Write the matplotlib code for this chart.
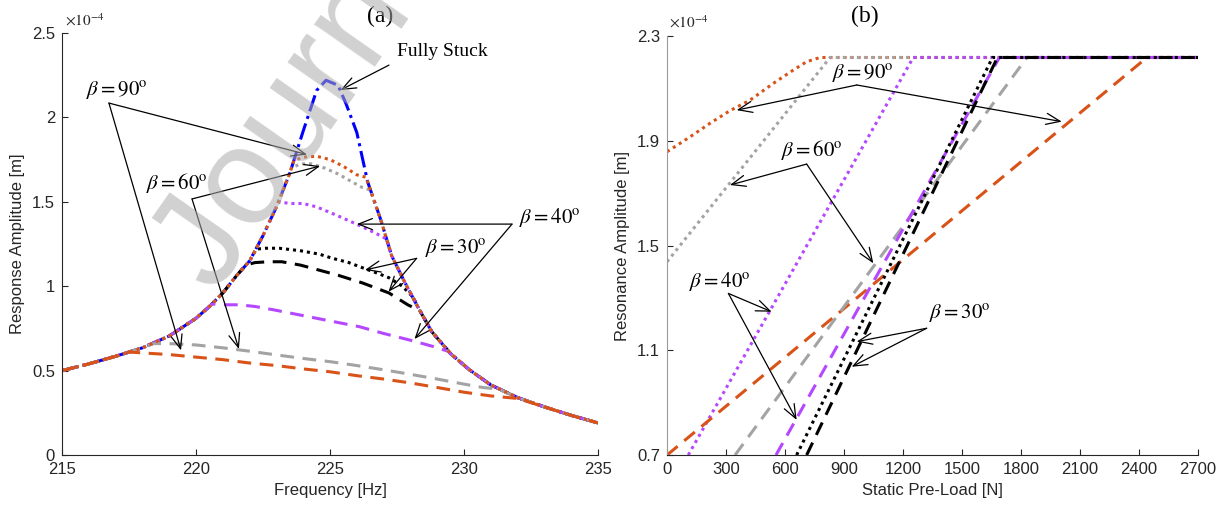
import numpy as np
import matplotlib
matplotlib.use("Agg")
import matplotlib.pyplot as plt

plt.rcParams['font.family'] = ['Liberation Sans', 'DejaVu Sans']
plt.rcParams['mathtext.fontset'] = 'stix'

# ---- (a) frequency response, amplitudes in 1e-4 m ----
stuck_freq = [215, 216, 217, 218, 219, 220, 220.5, 221, 221.5, 222, 222.5, 223, 223.5, 224,
              224.5, 224.85, 225.3, 225.6, 226, 226.4, 226.9, 227.3, 227.8, 228.3, 228.8,
              229.5, 230.2, 231, 232, 233, 234, 235]
stuck_amp = [0.50, 0.54, 0.585, 0.635, 0.705, 0.81, 0.88, 0.96, 1.06, 1.15, 1.30, 1.47, 1.67, 1.92,
             2.16, 2.22, 2.19, 2.08, 1.91, 1.62, 1.39, 1.18, 1.02, 0.87, 0.73,
             0.60, 0.505, 0.415, 0.34, 0.285, 0.235, 0.19]

# slipping part of each friction curve (the rest sits on the stuck curve)
b90_dot_f = [223.65, 224.0, 224.5, 225.0, 225.5, 226.0, 226.35]
b90_dot_a = [1.745, 1.765, 1.77, 1.75, 1.71, 1.66, 1.645]
b60_dot_f = [223.55, 223.9, 224.3, 224.8, 225.3, 225.8, 226.2, 226.5]
b60_dot_a = [1.70, 1.725, 1.725, 1.70, 1.665, 1.62, 1.585, 1.57]
b40_dot_f = [223.1, 223.5, 224.0, 224.5, 225.25, 226.1, 226.75, 227.1]
b40_dot_a = [1.50, 1.49, 1.49, 1.47, 1.42, 1.36, 1.31, 1.28]
b30_dot_f = [222.25, 222.6, 223.1, 223.9, 224.6, 225.1, 225.7, 226.2, 226.8, 227.2, 227.7, 228.1]
b30_dot_a = [1.22, 1.225, 1.225, 1.21, 1.19, 1.165, 1.14, 1.11, 1.075, 1.05, 1.0, 0.935]
b30_dash_f = [221.85, 222.2, 222.7, 223.2, 223.9, 224.6, 225.3, 226.2, 227.2, 227.9, 228.35]
b30_dash_a = [1.125, 1.14, 1.145, 1.145, 1.125, 1.095, 1.065, 1.02, 0.96, 0.89, 0.855]
b40_dash_f = [220.6, 221.0, 221.6, 222.2, 222.9, 223.7, 224.5, 225.3, 226.1, 227.0, 228.0, 228.8, 229.4]
b40_dash_a = [0.895, 0.89, 0.89, 0.88, 0.86, 0.835, 0.81, 0.785, 0.76, 0.72, 0.68, 0.645, 0.615]
b60_dash_f = [218.4, 219.0, 220.0, 221.0, 222.0, 223.0, 224.0, 225.0, 226.0, 227.0, 228.0, 229.0,
              230.0, 230.7, 231.3]
b60_dash_a = [0.66, 0.66, 0.652, 0.635, 0.615, 0.593, 0.572, 0.553, 0.53, 0.505, 0.478, 0.45,
              0.42, 0.40, 0.39]
b90_dash_f = [217.5, 218, 219, 220, 221, 222, 223, 224, 225, 226, 227, 228, 229, 230, 231, 232]
b90_dash_a = [0.61, 0.605, 0.595, 0.58, 0.565, 0.545, 0.53, 0.51, 0.493, 0.47, 0.45, 0.427, 0.40,
              0.372, 0.35, 0.335]

# ---- (b) resonance amplitude vs static pre-load ----
b90_dot_n = [0, 117, 219, 320, 422, 540, 642, 710, 778, 2700]
b90_dot_r = [1.858, 1.915, 1.967, 2.015, 2.055, 2.119, 2.170, 2.202, 2.218, 2.218]
b90_dash_n = [0, 880, 2440, 2700]
b90_dash_r = [0.7, 1.247, 2.218, 2.218]
b60_dot_n = [0, 829, 2700]
b60_dot_r = [1.438, 2.218, 2.218]
b60_dash_n = [346, 1830, 2700]
b60_dash_r = [0.7, 2.218, 2.218]
b40_dot_n = [108, 1252, 2700]
b40_dot_r = [0.7, 2.218, 2.218]
b40_dash_n = [554, 1690, 2700]
b40_dash_r = [0.7, 2.218, 2.218]
b30_dot_n = [659, 1655, 2700]
b30_dot_r = [0.7, 2.218, 2.218]
b30_dash_n = [710, 1680, 2700]
b30_dash_r = [0.7, 2.218, 2.218]

ORANGE = '#D95319'
GRAY = '#A3A3A3'
PURPLE = '#B547FF'
BLUE = '#0000FF'
DOT = (0, (1.0, 1.3))
DASH = (0, (4.5, 2.8))
DASHDOT = (0, (5.5, 1.6, 1.0, 1.6))
LW = 2.2
SERIF = ['Liberation Serif', 'DejaVu Serif']


def with_stuck(f_part, a_part):
    """Join a slipping branch onto the fully stuck curve at both ends."""
    f = np.asarray(stuck_freq, float)
    a = np.asarray(stuck_amp, float)
    lo = f < f_part[0]
    hi = f > f_part[-1]
    return (np.concatenate([f[lo], f_part, f[hi]]),
            np.concatenate([a[lo], a_part, a[hi]]))


def beta(deg):
    return r'$\beta = %d^{\mathrm{o}}$' % deg


def arrow(ax, tip, base):
    ax.annotate('', xy=tip, xytext=base, xycoords='data', textcoords='data',
                arrowprops=dict(arrowstyle='->,head_length=1.0,head_width=0.4',
                                lw=0.9, color='k', shrinkA=0, shrinkB=0))


def style_axes(ax):
    for s in ('top', 'right'):
        ax.spines[s].set_visible(False)
    for s in ('left', 'bottom'):
        ax.spines[s].set_color('#262626')
        ax.spines[s].set_linewidth(0.8)
    ax.tick_params(direction='in', length=4.5, width=0.8, labelsize=12,
                   colors='#262626', pad=5)


fig = plt.figure(figsize=(12.21, 5.08), dpi=100)
ax_a = fig.add_axes([0.0508, 0.1043, 0.4390, 0.8307])
ax_b = fig.add_axes([0.5463, 0.1043, 0.4349, 0.8248])

# panel (a)
ax_a.plot(stuck_freq, stuck_amp, color=BLUE, ls=DASHDOT, lw=LW)
for fp, ap, c, ls in [(b30_dash_f, b30_dash_a, 'k', DASH),
                      (b30_dot_f, b30_dot_a, 'k', DOT),
                      (b40_dash_f, b40_dash_a, PURPLE, DASH),
                      (b40_dot_f, b40_dot_a, PURPLE, DOT),
                      (b60_dash_f, b60_dash_a, GRAY, DASH),
                      (b60_dot_f, b60_dot_a, GRAY, DOT),
                      (b90_dot_f, b90_dot_a, ORANGE, DOT),
                      (b90_dash_f, b90_dash_a, ORANGE, DASH)]:
    f, a = with_stuck(fp, ap)
    ax_a.plot(f, a, color=c, ls=ls, lw=LW)

ax_a.set_xlim(215, 235)
ax_a.set_ylim(0, 2.5)
ax_a.set_xticks([215, 220, 225, 230, 235])
ax_a.set_yticks([0, 0.5, 1, 1.5, 2, 2.5])
ax_a.set_yticklabels(['0', '0.5', '1', '1.5', '2', '2.5'])
ax_a.set_xlabel('Frequency [Hz]', fontsize=12, color='#262626', labelpad=4)
ax_a.set_ylabel('Response Amplitude [m]', fontsize=12, color='#262626', labelpad=5)
style_axes(ax_a)
ax_a.text(0.005, 1.01, r'$\times 10^{-4}$', transform=ax_a.transAxes, fontsize=11,
          color='#262626', ha='left', va='bottom', family='DejaVu Sans')

ax_a.text(229.2, 2.39, 'Fully Stuck', fontsize=14, family=SERIF, ha='center', va='center')
arrow(ax_a, (225.39, 2.162), (227.2, 2.31))

ax_a.text(217.05, 2.16, beta(90), fontsize=15, ha='center', va='center')
arrow(ax_a, (224.14, 1.78), (216.75, 2.085))
arrow(ax_a, (219.44, 0.62), (216.75, 2.085))

ax_a.text(219.3, 1.61, beta(60), fontsize=15, ha='center', va='center')
arrow(ax_a, (224.63, 1.712), (219.85, 1.517))
arrow(ax_a, (221.6, 0.628), (219.85, 1.517))

ax_a.text(233.2, 1.41, beta(40), fontsize=15, ha='center', va='center')
arrow(ax_a, (226.0, 1.368), (231.79, 1.368))
arrow(ax_a, (228.15, 0.687), (231.79, 1.368))

ax_a.text(229.7, 1.22, beta(30), fontsize=15, ha='center', va='center')
arrow(ax_a, (226.3, 1.096), (228.23, 1.165))
arrow(ax_a, (227.18, 0.967), (228.23, 1.165))

# panel (b)
for n, r, c, ls in [(b90_dot_n, b90_dot_r, ORANGE, DOT),
                    (b60_dot_n, b60_dot_r, GRAY, DOT),
                    (b40_dot_n, b40_dot_r, PURPLE, DOT),
                    (b90_dash_n, b90_dash_r, ORANGE, DASH),
                    (b60_dash_n, b60_dash_r, GRAY, DASH),
                    (b40_dash_n, b40_dash_r, PURPLE, DASH),
                    (b30_dot_n, b30_dot_r, 'k', DOT),
                    (b30_dash_n, b30_dash_r, 'k', DASH)]:
    ax_b.plot(n, r, color=c, ls=ls, lw=LW)

ax_b.set_xlim(0, 2700)
ax_b.set_ylim(0.7, 2.3)
ax_b.set_xticks(np.arange(0, 2701, 300))
ax_b.set_yticks([0.7, 1.1, 1.5, 1.9, 2.3])
ax_b.set_yticklabels(['0.7', '1.1', '1.5', '1.9', '2.3'])
ax_b.set_xlabel('Static Pre-Load [N]', fontsize=12, color='#262626', labelpad=4)
ax_b.set_ylabel('Resonance Amplitude [m]', fontsize=12, color='#262626', labelpad=5)
style_axes(ax_b)
ax_b.spines['left'].set_color('#9a9a9a')
ax_b.text(0.003, 1.012, r'$\times 10^{-4}$', transform=ax_b.transAxes, fontsize=11,
          color='#262626', ha='left', va='bottom', family='DejaVu Sans')

ax_b.text(996, 2.155, beta(90), fontsize=15, ha='center', va='center')
arrow(ax_b, (354, 2.017), (965, 2.113))
arrow(ax_b, (2007, 1.973), (965, 2.113))

ax_b.text(737, 1.865, beta(60), fontsize=15, ha='center', va='center')
arrow(ax_b, (320, 1.731), (710, 1.811))
arrow(ax_b, (1049, 1.432), (710, 1.811))

ax_b.text(270, 1.362, beta(40), fontsize=15, ha='center', va='center')
arrow(ax_b, (532, 1.247), (312, 1.317))
arrow(ax_b, (659, 0.834), (312, 1.317))

ax_b.text(1490, 1.238, beta(30), fontsize=15, ha='center', va='center')
arrow(ax_b, (964, 1.133), (1320, 1.184))
arrow(ax_b, (939, 1.037), (1320, 1.184))

fig.text(0.311, 0.968, '(a)', fontsize=17, family=SERIF, ha='center', va='center')
fig.text(0.708, 0.968, '(b)', fontsize=17, family=SERIF, ha='center', va='center')

# faint diagonal watermark over panel (a)
fig.text(0.176, 0.419, 'Journal Pre-proof', fontsize=100, color=(0.67, 0.67, 0.67),
         alpha=0.55, rotation=55, rotation_mode='anchor', ha='left', va='baseline',
         zorder=10)

fig.savefig('out.png', dpi=100)
